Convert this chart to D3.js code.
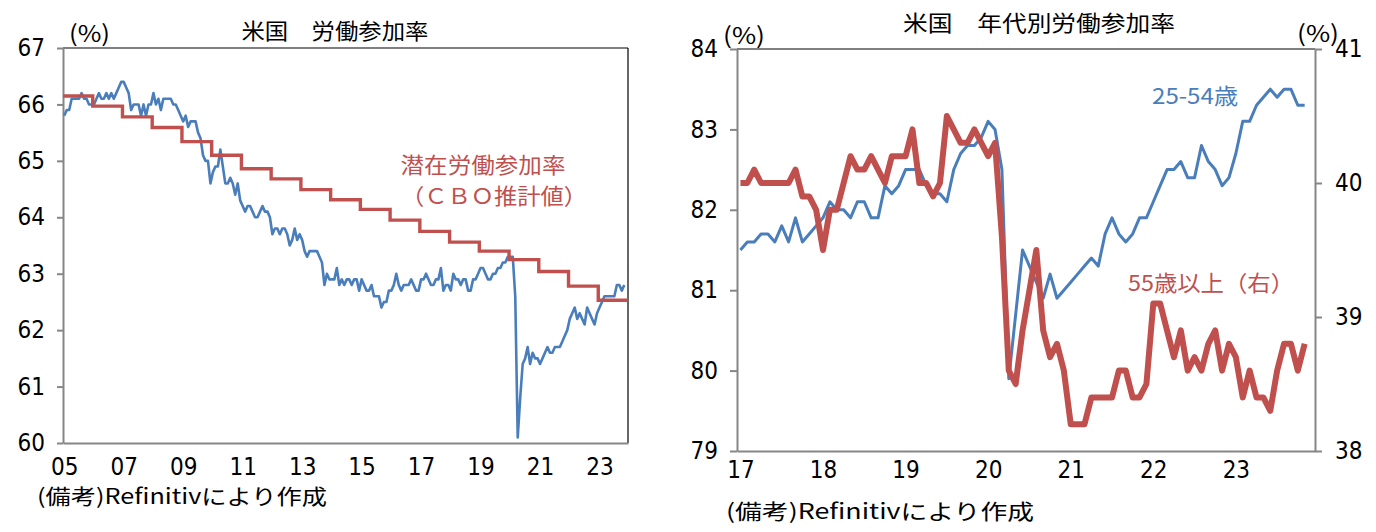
<!DOCTYPE html>
<html>
<head>
<meta charset="utf-8">
<script src="https://cdn.jsdelivr.net/npm/d3@7"></script>
<style>
  body { margin: 0; background: #fff; }
  svg { display: block; }
  .tick text { font-family: "Liberation Sans Narrow", "Arial Narrow", "DejaVu Sans Condensed", sans-serif; font-size: 24px; fill: #000; }
  .jp { font-family: "Noto Sans CJK JP", sans-serif; }
</style>
</head>
<body>
<svg id="chart" width="1376" height="532"></svg>
<script>
// ---- left chart: US labour force participation rate, monthly from Jan 2005 ----
const lfprStartYear = 2005;
const lfpr = [
  65.8, 65.9, 65.9, 66.1, 66.1, 66.1, 66.1, 66.2, 66.1, 66.1, 66.0, 66.0,
  66.0, 66.1, 66.2, 66.1, 66.1, 66.2, 66.1, 66.2, 66.1, 66.2, 66.3, 66.4,
  66.4, 66.3, 66.2, 65.9, 66.0, 66.0, 66.0, 65.8, 66.0, 65.8, 66.0, 66.0,
  66.2, 66.0, 66.1, 65.9, 66.1, 66.1, 66.1, 66.1, 66.0, 66.0, 65.9, 65.8,
  65.7, 65.8, 65.6, 65.7, 65.7, 65.7, 65.5, 65.4, 65.1, 65.0, 65.0, 64.6,
  64.8, 64.9, 64.9, 65.2, 64.9, 64.6, 64.6, 64.7, 64.6, 64.4, 64.6, 64.3,
  64.2, 64.1, 64.2, 64.2, 64.1, 64.0, 64.0, 64.1, 64.2, 64.1, 64.1, 64.0,
  63.7, 63.8, 63.8, 63.7, 63.8, 63.8, 63.7, 63.5, 63.6, 63.8, 63.6, 63.7,
  63.6, 63.4, 63.3, 63.4, 63.4, 63.4, 63.4, 63.3, 63.2, 62.8, 63.0, 62.9,
  62.9, 62.9, 63.1, 62.8, 62.9, 62.8, 62.9, 62.9, 62.8, 62.9, 62.9, 62.7,
  62.9, 62.8, 62.7, 62.7, 62.8, 62.6, 62.6, 62.6, 62.4, 62.5, 62.5, 62.7,
  62.7, 62.8, 63.0, 62.8, 62.7, 62.8, 62.8, 62.8, 62.9, 62.8, 62.7, 62.7,
  62.9, 62.9, 63.0, 62.9, 62.8, 62.8, 62.9, 62.9, 63.1, 62.7, 62.8, 62.8,
  62.7, 63.0, 62.9, 62.9, 62.8, 62.9, 62.9, 62.7, 62.7, 62.9, 62.9, 63.0,
  63.1, 63.1, 63.0, 62.9, 62.9, 63.0, 63.0, 63.1, 63.1, 63.2, 63.2, 63.3,
  63.3, 63.3, 62.6, 60.1, 60.8, 61.4, 61.5, 61.7, 61.4, 61.6, 61.5, 61.5,
  61.4, 61.5, 61.6, 61.7, 61.6, 61.6, 61.7, 61.7, 61.7, 61.8, 61.9, 62.0,
  62.2, 62.3, 62.4, 62.2, 62.3, 62.2, 62.1, 62.4, 62.3, 62.2, 62.1, 62.3,
  62.4, 62.5, 62.6, 62.6, 62.6, 62.6, 62.6, 62.8, 62.8, 62.7, 62.8
];
const leftMonths = 228; // Jan 2005 .. Dec 2023 on the category axis

// CBO potential labour force participation rate (annual)
const cboYears = [2005, 2006, 2007, 2008, 2009, 2010, 2011, 2012, 2013, 2014,
                  2015, 2016, 2017, 2018, 2019, 2020, 2021, 2022, 2023];
const cboRate = [66.15, 65.97, 65.78, 65.59, 65.34, 65.10, 64.86, 64.68, 64.49, 64.31,
                 64.14, 63.95, 63.75, 63.56, 63.40, 63.25, 63.04, 62.78, 62.53];

const leftTickYears = [2005, 2007, 2009, 2011, 2013, 2015, 2017, 2019, 2021, 2023];
const leftTickLabels = ["05", "07", "09", "11", "13", "15", "17", "19", "21", "23"];
const leftYTicks = [60, 61, 62, 63, 64, 65, 66, 67];

// ---- right chart: participation by age, monthly from Jan 2017 ----
const ageStartYear = 2017;
const prime = [
  81.5, 81.6, 81.6, 81.7, 81.7, 81.6, 81.8, 81.6, 81.9, 81.6, 81.7, 81.8,
  81.9, 82.1, 82.0, 82.0, 81.9, 82.1, 82.1, 81.9, 81.9, 82.3, 82.2, 82.3,
  82.5, 82.5, 82.5, 82.3, 82.2, 82.2, 82.1, 82.5, 82.7, 82.8, 82.8, 82.9,
  83.1, 83.0, 82.5, 79.9, 80.7, 81.5, 81.3, 81.1, 80.9, 81.2, 80.9, 81.0,
  81.1, 81.2, 81.3, 81.4, 81.3, 81.7, 81.9, 81.7, 81.6, 81.7, 81.9, 81.9,
  82.1, 82.3, 82.5, 82.5, 82.6, 82.4, 82.4, 82.8, 82.6, 82.5, 82.3, 82.4,
  82.7, 83.1, 83.1, 83.3, 83.4, 83.5, 83.4, 83.5, 83.5, 83.3, 83.3
];
const older = [
  40.0, 40.0, 40.1, 40.0, 40.0, 40.0, 40.0, 40.0, 40.1, 39.9, 39.9, 39.8,
  39.5, 39.8, 39.8, 40.0, 40.2, 40.1, 40.1, 40.2, 40.1, 40.0, 40.2, 40.2,
  40.2, 40.4, 40.0, 40.0, 39.9, 40.0, 40.5, 40.4, 40.3, 40.3, 40.4, 40.3,
  40.2, 40.3, 39.6, 38.6, 38.5, 38.9, 39.2, 39.5, 38.9, 38.7, 38.8, 38.6,
  38.2, 38.2, 38.2, 38.4, 38.4, 38.4, 38.4, 38.6, 38.6, 38.4, 38.4, 38.5,
  39.1, 39.1, 38.9, 38.7, 38.9, 38.6, 38.7, 38.6, 38.8, 38.9, 38.6, 38.8,
  38.7, 38.4, 38.6, 38.4, 38.4, 38.3, 38.6, 38.8, 38.8, 38.6, 38.8
];
const rightMonths = 84; // Jan 2017 .. Dec 2023

const rightTickYears = [2017, 2018, 2019, 2020, 2021, 2022, 2023];
const rightTickLabels = ["17", "18", "19", "20", "21", "22", "23"];
const rightYTicksL = [79, 80, 81, 82, 83, 84];
const rightYTicksR = [38, 39, 40, 41];

const BLUE = "#4a7ebb", RED = "#c0504d", AXIS = "#868686";

const svg = d3.select("#chart");

// gray axis lines and tick marks as in the spreadsheet chart
const styleAxis = (g) => {
    g.select(".domain").attr("stroke", AXIS).attr("stroke-width", 2);
    g.selectAll(".tick line").attr("stroke", AXIS).attr("stroke-width", 2);
};

const jpText = (x, y, str, size, color, anchor, len) => {
    const t = svg.append("text")
        .attr("class", "jp")
        .attr("x", x).attr("y", y)
        .attr("dy", "0.35em")
        .attr("font-size", size)
        .attr("fill", color)
        .attr("text-anchor", anchor)
        .text(str);
    if (len) t.attr("textLength", len).attr("lengthAdjust", "spacingAndGlyphs");
    return t;
};

// ================= left chart =================
(function () {
    const L = 63, R = 628, T = 48, B = 443;

    const x = d3.scaleLinear().domain([-0.5, leftMonths - 0.5]).range([L, R]);
    const y = d3.scaleLinear().domain([60, 67]).range([B, T]);

    const g = svg.append("g");

    // frame top and right
    g.append("line").attr("x1", L).attr("x2", R).attr("y1", T).attr("y2", T)
        .attr("stroke", "#000").attr("stroke-width", 1.2);
    g.append("line").attr("x1", R).attr("x2", R).attr("y1", T).attr("y2", B)
        .attr("stroke", "#000").attr("stroke-width", 1.2);

    g.append("g")
        .attr("transform", "translate(" + L + ",0)")
        .call(d3.axisLeft(y).tickValues(leftYTicks).tickSize(6).tickSizeOuter(0)
            .tickPadding(12).tickFormat(d3.format("d")))
        .call(styleAxis);

    g.append("g")
        .attr("transform", "translate(0," + B + ")")
        .call(d3.axisBottom(x)
            .tickValues(leftTickYears.map(yr => (yr - lfprStartYear) * 12))
            .tickFormat((d, i) => leftTickLabels[i])
            .tickSize(0).tickSizeOuter(0).tickPadding(15))
        .call(styleAxis);

    // blue: actual rate
    g.append("path")
        .datum(lfpr)
        .attr("fill", "none")
        .attr("stroke", BLUE)
        .attr("stroke-width", 2.6)
        .attr("stroke-linejoin", "round")
        .attr("d", d3.line().x((d, i) => x(i)).y(d => y(d)));

    // red: CBO potential, annual steps starting at each January
    const steps = cboYears.map((yr, i) => ({ m: (yr - lfprStartYear) * 12 - 0.5, v: cboRate[i] }));
    steps.push({ m: leftMonths - 0.5, v: cboRate[cboRate.length - 1] });
    g.append("path")
        .datum(steps)
        .attr("fill", "none")
        .attr("stroke", RED)
        .attr("stroke-width", 3.4)
        .attr("d", d3.line().curve(d3.curveStepAfter).x(d => x(d.m)).y(d => y(d.v)));

    jpText(335, 31, "米国　労働参加率", 22, "#000", "middle", 187);
    jpText(69, 34, "(%)", 23, "#000", "start", 41);
    jpText(483, 165, "潜在労働参加率", 22, RED, "middle", 165);
    jpText(494, 196, "（ＣＢＯ推計値）", 22, RED, "middle", 186);
    jpText(37, 497, "(備考)Refinitivにより作成", 21, "#000", "start", 290);
})();

// ================= right chart =================
(function () {
    const L = 737, R = 1315, T = 49, B = 451;

    const x = d3.scaleLinear().domain([-0.5, rightMonths - 0.5]).range([L, R]);
    const yL = d3.scaleLinear().domain([79, 84]).range([B, T]);
    const yR = d3.scaleLinear().domain([38, 41]).range([B, T]);

    const g = svg.append("g");

    g.append("line").attr("x1", L).attr("x2", R).attr("y1", T).attr("y2", T)
        .attr("stroke", "#000").attr("stroke-width", 1.2);

    g.append("g")
        .attr("transform", "translate(" + L + ",0)")
        .call(d3.axisLeft(yL).tickValues(rightYTicksL).tickSize(7).tickSizeOuter(0)
            .tickPadding(12).tickFormat(d3.format("d")))
        .call(styleAxis);

    g.append("g")
        .attr("transform", "translate(" + R + ",0)")
        .call(d3.axisRight(yR).tickValues(rightYTicksR).tickSize(7).tickSizeOuter(0)
            .tickPadding(13).tickFormat(d3.format("d")))
        .call(styleAxis);

    g.append("g")
        .attr("transform", "translate(0," + B + ")")
        .call(d3.axisBottom(x)
            .tickValues(rightTickYears.map(yr => (yr - ageStartYear) * 12))
            .tickFormat((d, i) => rightTickLabels[i])
            .tickSize(0).tickSizeOuter(0).tickPadding(10))
        .call(styleAxis);

    g.append("path")
        .datum(prime)
        .attr("fill", "none")
        .attr("stroke", BLUE)
        .attr("stroke-width", 3)
        .attr("stroke-linejoin", "round")
        .attr("d", d3.line().x((d, i) => x(i)).y(d => yL(d)));

    g.append("path")
        .datum(older)
        .attr("fill", "none")
        .attr("stroke", RED)
        .attr("stroke-width", 6)
        .attr("stroke-linejoin", "round")
        .attr("d", d3.line().x((d, i) => x(i)).y(d => yR(d)));

    jpText(1039, 23, "米国　年代別労働参加率", 22, "#000", "middle", 272);
    jpText(723, 36, "(%)", 23, "#000", "start", 42);
    jpText(1297, 34, "(%)", 23, "#000", "start", 42);
    jpText(1152, 96, "25-54歳", 22, BLUE, "start", 86);
    jpText(1128, 283, "55歳以上（右）", 22, RED, "start", 166);
    jpText(726, 512, "(備考)Refinitivにより作成", 21, "#000", "start", 308);
})();
</script>
</body>
</html>
